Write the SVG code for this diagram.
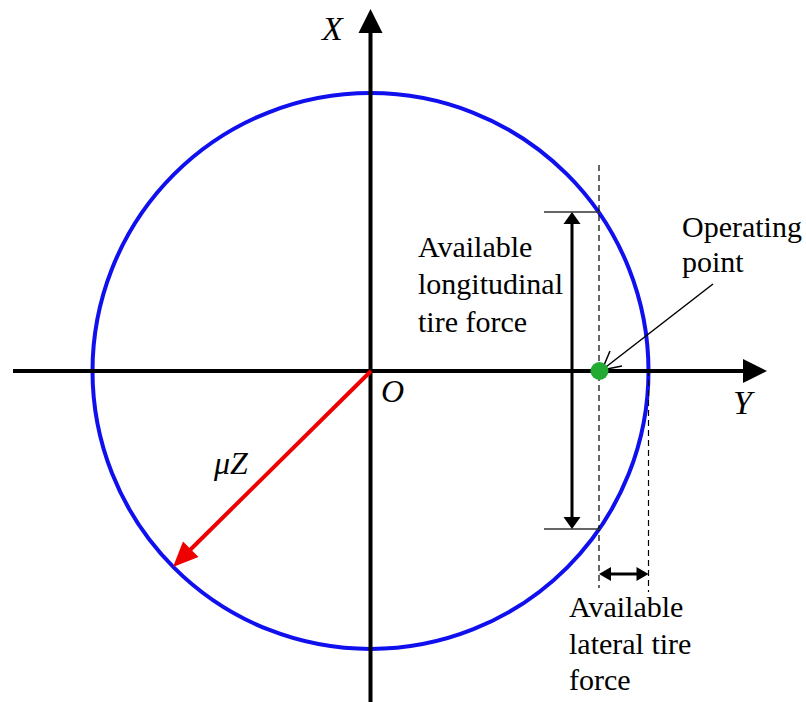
<svg xmlns="http://www.w3.org/2000/svg" width="806" height="702" viewBox="0 0 806 702">
<style>
.lbl{font-family:'Liberation Serif','Times New Roman',Times,serif;font-size:30px;fill:#000}
.sym{font-family:'Liberation Serif','Times New Roman',Times,serif;font-style:italic;font-size:34px;fill:#000}
.dash{stroke:#000;stroke-width:1.2;stroke-dasharray:6,4;fill:none}
.tick{stroke:#333;stroke-width:1.5}
</style>
<rect width="806" height="702" fill="#fff"/>
<g id="circle">
<circle cx="370.5" cy="371" r="278" fill="none" stroke="#1010ee" stroke-width="4"/>
</g>
<g id="axes">
<line x1="13" y1="371" x2="745" y2="371" stroke="#000" stroke-width="4"/>
<polygon points="767,371 743,359 743,383" fill="#000"/>
<line x1="370.5" y1="702" x2="370.5" y2="31" stroke="#000" stroke-width="4"/>
<polygon points="370.5,9 358.5,33 382.5,33" fill="#000"/>
<text class="sym" x="322" y="40">X</text>
<text class="sym" x="733" y="414">Y</text>
<text class="sym" x="381" y="402" style="font-size:32px">O</text>
</g>
<g id="connectors">
<line class="dash" x1="599" y1="165" x2="599" y2="588"/>
<line class="dash" x1="648.5" y1="370" x2="648.5" y2="592"/>
<line class="tick" x1="544" y1="212" x2="600" y2="212"/>
<line class="tick" x1="544" y1="529" x2="600" y2="529"/>
<line x1="572" y1="222" x2="572" y2="519" stroke="#000" stroke-width="3"/>
<polygon points="572,212 563.5,224 580.5,224" fill="#000"/>
<polygon points="572,529 563.5,517 580.5,517" fill="#000"/>
<line x1="608" y1="574" x2="640" y2="574" stroke="#000" stroke-width="3"/>
<polygon points="599,574 611,567 611,581" fill="#000"/>
<polygon points="648.5,574 636.5,567 636.5,581" fill="#000"/>
<line x1="371" y1="371" x2="188" y2="552" stroke="#ee0000" stroke-width="4"/>
<polygon points="173,567 183,541.5 198.5,557" fill="#ee0000"/>
<line x1="713" y1="284" x2="602" y2="370" stroke="#000" stroke-width="1.5"/>
<polyline points="610,351 602,370 622,366" fill="none" stroke="#000" stroke-width="1.5"/>
</g>
<g id="operating-point">
<circle cx="599.5" cy="371" r="9" fill="#22aa33"/>
<text class="lbl" x="682" y="237">Operating</text>
<text class="lbl" x="682" y="272">point</text>
</g>
<g id="longitudinal-label">
<text class="lbl" x="418" y="257">Available</text>
<text class="lbl" x="418" y="294">longitudinal</text>
<text class="lbl" x="418" y="332">tire force</text>
</g>
<g id="lateral-label">
<text class="lbl" x="569" y="617">Available</text>
<text class="lbl" x="569" y="654">lateral tire</text>
<text class="lbl" x="569" y="690">force</text>
</g>
<g id="muZ">
<text class="sym" x="214" y="474" style="font-size:32px">μZ</text>
</g>
</svg>
